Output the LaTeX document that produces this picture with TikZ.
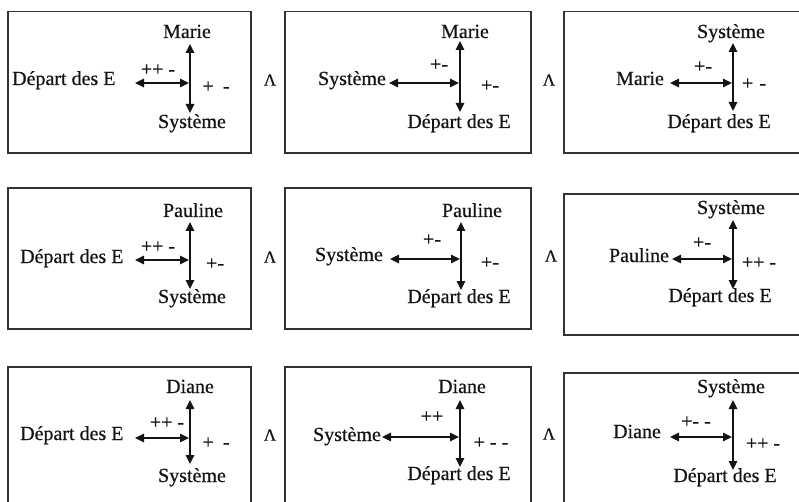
\documentclass[tikz,border=0pt]{standalone}
\usepackage{fontspec}
\setmainfont{Liberation Serif}[BoldFont={Liberation Serif},BoldFeatures={FakeBold=0.5}]
\usetikzlibrary{arrows.meta}
\definecolor{ink}{HTML}{141414}
\definecolor{frame}{HTML}{333333}
\tikzset{
 panel/.style={draw=frame, line width=1.7pt},
 lbl/.style={inner sep=0pt, text=ink, text height=14pt, text depth=4pt, font=\fontsize{20}{24}\selectfont\bfseries},
 sgn/.style={inner sep=0pt, text=ink, font=\fontsize{20}{24}\selectfont\bfseries},
 lam/.style={inner sep=0pt, text=ink, font=\fontsize{17}{19}\selectfont\bfseries},
 dbl/.style={draw=ink, line width=1.5pt, {Triangle[length=9pt,width=8.5pt]}-{Triangle[length=9pt,width=8.5pt]}},
}
\begin{document}
\begin{tikzpicture}[x=1pt,y=-1pt]
\useasboundingbox (0,0) rectangle (799,502);
\fill[white] (0,0) rectangle (799,502);
\clip (0,0) rectangle (799,502);
% frames
\draw[panel] (8,11.5) rectangle (251,153);
\draw[panel] (285,11.5) rectangle (531,153);
\draw[panel] (564,11.5) rectangle (820,153);
\draw[panel] (8,188) rectangle (251,329);
\draw[panel] (285,188) rectangle (531,329);
\draw[panel] (564,194) rectangle (820,335);
\draw[panel] (8,367) rectangle (251,520);
\draw[panel] (285,367) rectangle (531,520);
\draw[panel] (564,373) rectangle (820,520);
% Lambdas
\node[lam] (L1) at (270,80) {Λ};
\node[lam] (L2) at (549,80) {Λ};
\node[lam] (L3) at (270,257) {Λ};
\node[lam] (L4) at (551,256) {Λ};
\node[lam] (L5) at (270,435) {Λ};
\node[lam] (L6) at (549,434) {Λ};
% ---- Panel 1
\node[lbl,anchor=west] (l1) at (12,80) {Départ des E};
\node[lbl] (t1) at (187,33) {Marie};
\node[lbl] (b1) at (192,123) {Système};
\coordinate (v1a) at (190,44); \coordinate (v1b) at (190,113);
\coordinate (h1a) at (135,83); \coordinate (h1b) at (189,83);
\draw[dbl] (v1a) -- (v1b); \draw[dbl] (h1a) -- (h1b);
\node[sgn] (s1a) at (158,70) {++ -};
\node[sgn] (s1b) at (216,87) {+\hspace{9pt}-};
% ---- Panel 2
\node[lbl] (l2) at (352,80) {Système};
\node[lbl] (t2) at (465,33) {Marie};
\node[lbl] (b2) at (459,123) {Départ des E};
\coordinate (v2a) at (460,41); \coordinate (v2b) at (460,112);
\coordinate (h2a) at (389,83); \coordinate (h2b) at (459,83);
\draw[dbl] (v2a) -- (v2b); \draw[dbl] (h2a) -- (h2b);
\node[sgn] (s2a) at (439,65) {+-};
\node[sgn] (s2b) at (490,86) {+-};
% ---- Panel 3
\node[lbl] (l3) at (640,80) {Marie};
\node[lbl] (t3) at (731,33) {Système};
\node[lbl] (b3) at (719,123) {Départ des E};
\coordinate (v3a) at (733,43); \coordinate (v3b) at (733,111);
\coordinate (h3a) at (670,83); \coordinate (h3b) at (732,83);
\draw[dbl] (v3a) -- (v3b); \draw[dbl] (h3a) -- (h3b);
\node[sgn] (s3a) at (703,67) {+-};
\node[sgn] (s3b) at (754,84) {+\hspace{6pt}-};
% ---- Panel 4
\node[lbl,anchor=west] (l4) at (20,258) {Départ des E};
\node[lbl] (t4) at (193,212) {Pauline};
\node[lbl] (b4) at (192,298) {Système};
\coordinate (v4a) at (190,222); \coordinate (v4b) at (190,289);
\coordinate (h4a) at (135,260); \coordinate (h4b) at (189,260);
\draw[dbl] (v4a) -- (v4b); \draw[dbl] (h4a) -- (h4b);
\node[sgn] (s4a) at (158,247) {++ -};
\node[sgn] (s4b) at (215,264) {+-};
% ---- Panel 5
\node[lbl] (l5) at (349,256) {Système};
\node[lbl] (t5) at (472,212) {Pauline};
\node[lbl] (b5) at (459,298) {Départ des E};
\coordinate (v5a) at (461,222); \coordinate (v5b) at (461,290);
\coordinate (h5a) at (390,259); \coordinate (h5b) at (460,259);
\draw[dbl] (v5a) -- (v5b); \draw[dbl] (h5a) -- (h5b);
\node[sgn] (s5a) at (432,240) {+-};
\node[sgn] (s5b) at (490,263) {+-};
% ---- Panel 6
\node[lbl] (l6) at (639,257) {Pauline};
\node[lbl] (t6) at (731,209) {Système};
\node[lbl] (b6) at (720,297) {Départ des E};
\coordinate (v6a) at (733,220); \coordinate (v6b) at (733,289);
\coordinate (h6a) at (672,259); \coordinate (h6b) at (732,259);
\draw[dbl] (v6a) -- (v6b); \draw[dbl] (h6a) -- (h6b);
\node[sgn] (s6a) at (702,243) {+-};
\node[sgn] (s6b) at (759,263) {++ -};
% ---- Panel 7
\node[lbl,anchor=west] (l7) at (20,435) {Départ des E};
\node[lbl] (t7) at (190,388) {Diane};
\node[lbl] (b7) at (192,477) {Système};
\coordinate (v7a) at (190,400); \coordinate (v7b) at (190,464);
\coordinate (h7a) at (135,438); \coordinate (h7b) at (189,438);
\draw[dbl] (v7a) -- (v7b); \draw[dbl] (h7a) -- (h7b);
\node[sgn] (s7a) at (167,423) {++ -};
\node[sgn] (s7b) at (216,443) {+\hspace{9pt}-};
% ---- Panel 8
\node[lbl] (l8) at (347,436) {Système};
\node[lbl] (t8) at (462,388) {Diane};
\node[lbl] (b8) at (459,475) {Départ des E};
\coordinate (v8a) at (460,400); \coordinate (v8b) at (460,467);
\coordinate (h8a) at (382,437); \coordinate (h8b) at (459,437);
\draw[dbl] (v8a) -- (v8b); \draw[dbl] (h8a) -- (h8b);
\node[sgn] (s8a) at (432,417) {++};
\node[sgn] (s8b) at (491,443) {+ - -};
% ---- Panel 9
\node[lbl] (l9) at (637,433) {Diane};
\node[lbl] (t9) at (731,388) {Système};
\node[lbl] (b9) at (725,477) {Départ des E};
\coordinate (v9a) at (733,400); \coordinate (v9b) at (733,470);
\coordinate (h9a) at (670,437); \coordinate (h9b) at (732,437);
\draw[dbl] (v9a) -- (v9b); \draw[dbl] (h9a) -- (h9b);
\node[sgn] (s9a) at (696,422) {+- -};
\node[sgn] (s9b) at (763,444) {++ -};
\end{tikzpicture}
\end{document}
